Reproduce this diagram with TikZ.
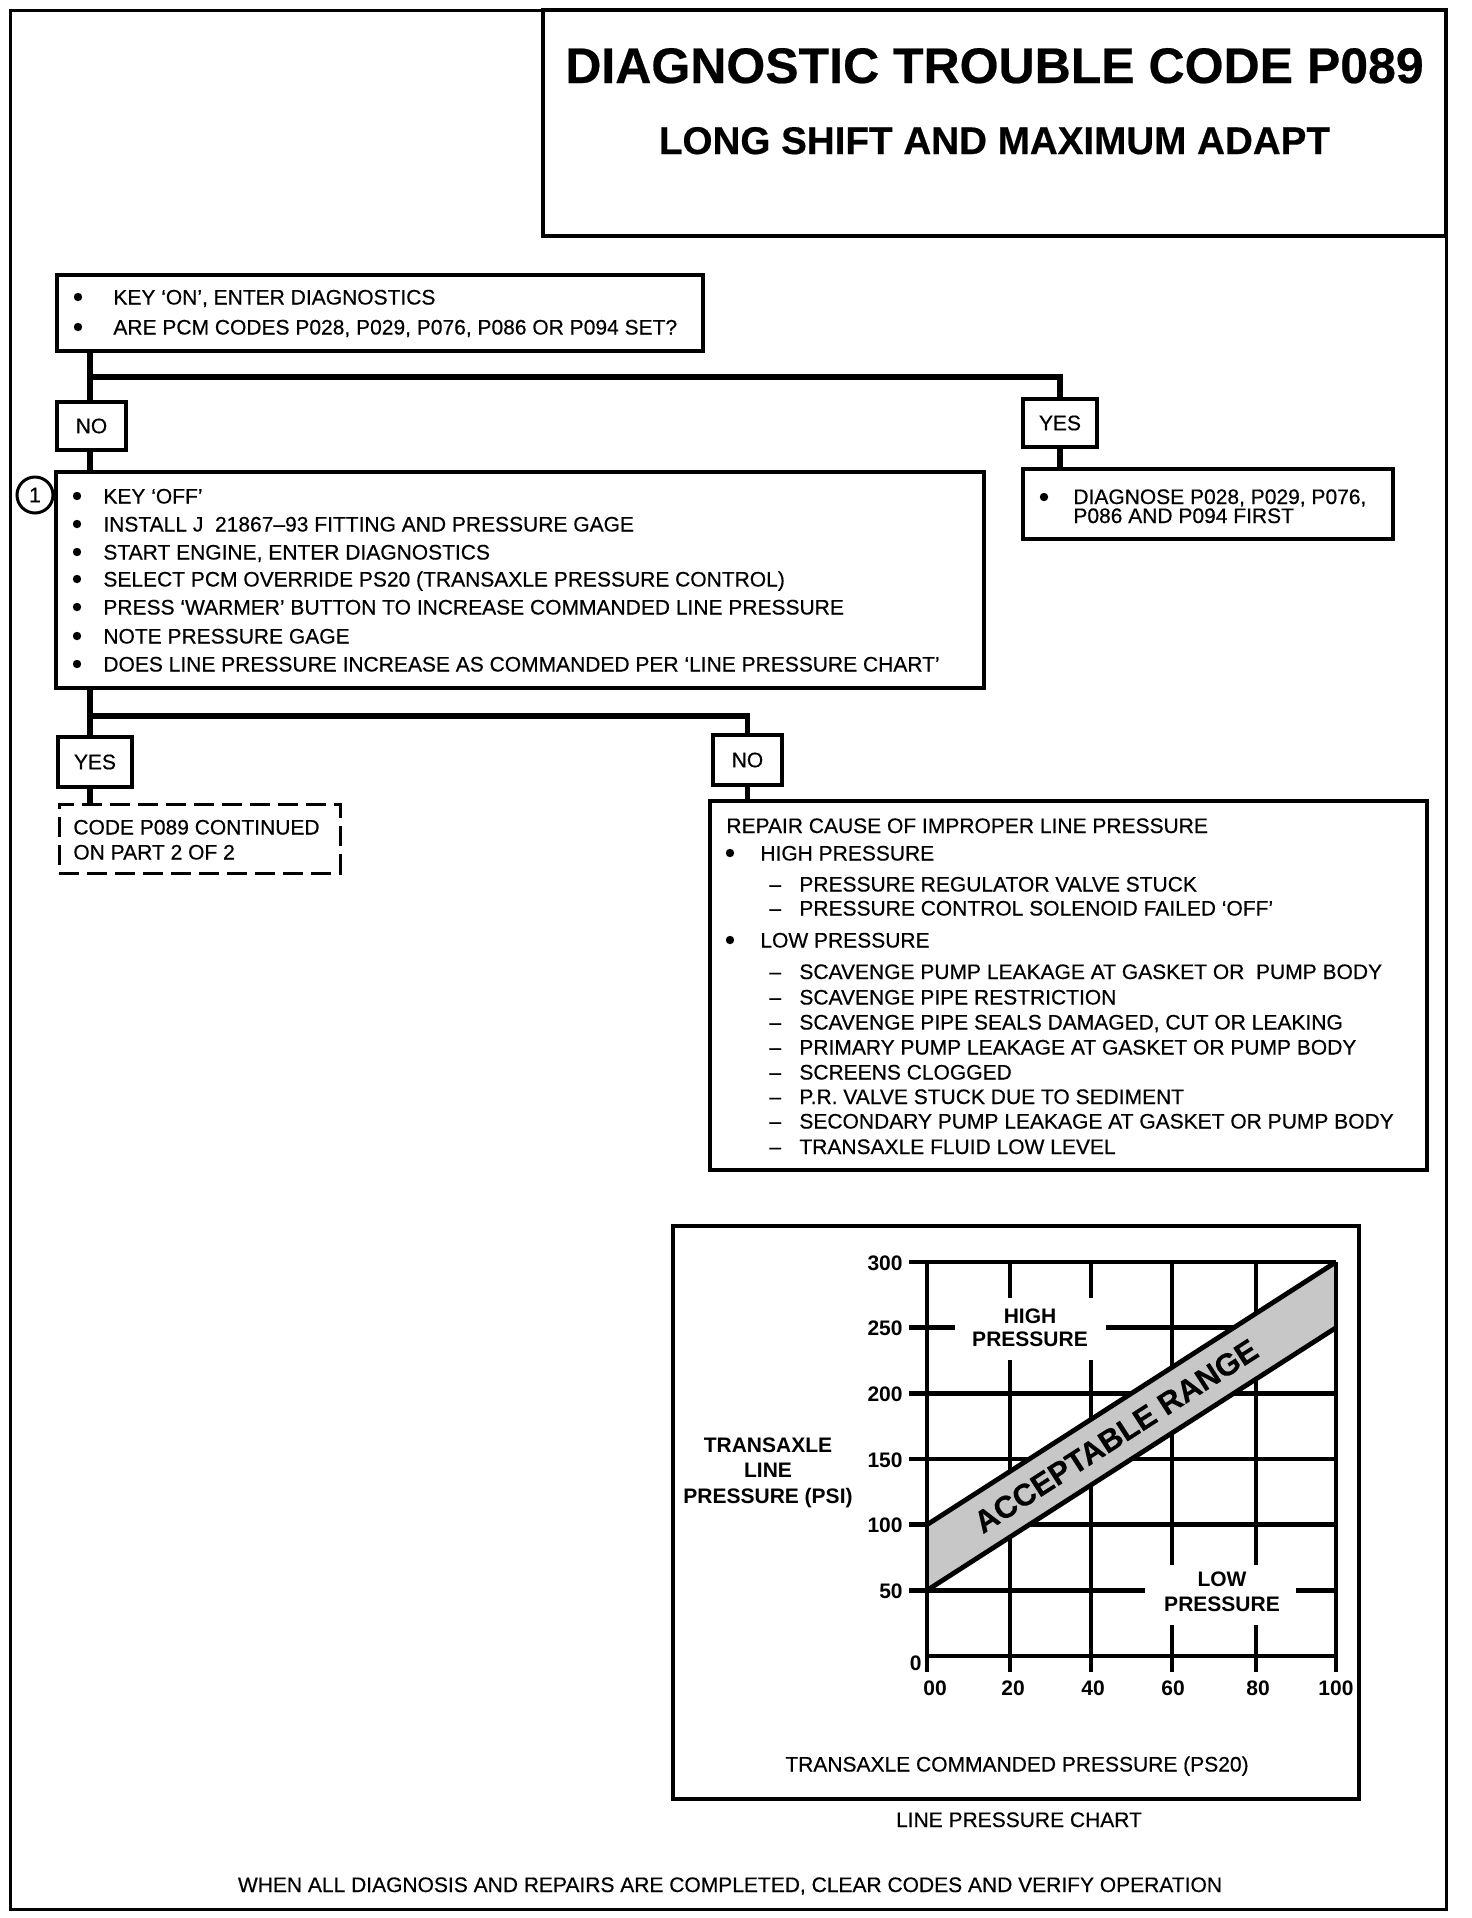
\documentclass[tikz,border=0pt]{standalone}
\usepackage{fontspec}
\setmainfont{Liberation Sans}
\newfontfamily\heavyfont{Liberation Sans}[FakeBold=0.45]
\newcommand\bodyfont{\heavyfont\fontsize{10.5}{12.6}\selectfont}
\newcommand\chartfont{\fontsize{10.5}{12.6}\selectfont\bfseries}
\newcommand\dgbul[2]{\fill (#1,#2) circle[radius=2.1pt];}
\begin{document}
\begin{tikzpicture}[x=0.5pt,y=-0.5pt,
  box/.style={draw,line width=1.8pt,inner sep=0pt,font=\bodyfont},
  conn/.style={line width=2.8pt},
  txt/.style={inner sep=0pt,anchor=base west,font=\bodyfont},
  ctxt/.style={inner sep=0pt,anchor=base,font=\chartfont},
  gridline/.style={line width=2.4pt},
]
\useasboundingbox (0,0) rectangle (1472,1918);
\fill[white] (0,0) rectangle (1472,1918);
% outer frame
\draw[line width=1.5pt] (10,10) rectangle (1446,1909);
% title box
\node[draw,line width=2pt,minimum width=451.5pt,minimum height=113pt,inner sep=0pt] (tbox) at (994.5,123) {};
\node[inner sep=0pt,anchor=base,font=\heavyfont\fontsize{25}{30}\selectfont\bfseries] (title) at (994.5,83) {DIAGNOSTIC TROUBLE CODE P089};
\node[inner sep=0pt,anchor=base,font=\heavyfont\fontsize{19.3}{23}\selectfont\bfseries] (subtitle) at (994.5,154) {LONG SHIFT AND MAXIMUM ADAPT};

% boxes
\node[box,minimum width=323pt,minimum height=38pt] (box1) at (380,313) {};
\node[box,minimum width=34.5pt,minimum height=24pt] (no1) at (91.5,426) {NO};
\node[box,minimum width=37pt,minimum height=24pt] (yes1) at (1060,423) {YES};
\node[box,minimum width=185pt,minimum height=35pt] (diag) at (1208,504) {};
\node[box,minimum width=464pt,minimum height=108pt] (box2) at (520,580) {};
\node[box,minimum width=37pt,minimum height=25pt] (yes2) at (95,762) {YES};
\node[box,minimum width=34.5pt,minimum height=25pt] (no2) at (747.5,760) {NO};
\node[box,dash pattern=on 10pt off 4pt,line width=1.5pt,minimum width=140.5pt,minimum height=34.5pt] (cont) at (199.5,838.5) {};
\node[box,minimum width=358.5pt,minimum height=184.5pt] (repair) at (1068.5,985.5) {};
\node[draw,circle,line width=1.5pt,minimum size=18pt,inner sep=0pt,font=\bodyfont] (c1) at (35,495) {1};

% connectors
\coordinate (t1) at (90,377);
\coordinate (t2) at (90,716);
\draw[conn] (box1.south -| t1) -- (t1) -| (yes1.north);
\draw[conn] (t1) -- (no1.north -| t1);
\draw[conn] (no1.south -| t1) -- (box2.north -| t1);
\draw[conn] (yes1.south) -- (diag.north -| yes1.south);
\draw[conn] (box2.south -| t2) -- (t2) -| (no2.north);
\draw[conn] (t2) -- (yes2.north -| t2);
\draw[conn] (yes2.south -| t2) -- (cont.north -| t2);
\draw[conn] (no2.south) -- (repair.north -| no2.south);

% box1 text
\dgbul{78}{297}\dgbul{78}{327}
\node[txt] (b1a) at (113,304.5) {KEY ‘ON’, ENTER DIAGNOSTICS};
\node[txt] (b1b) at (113,334.5) {ARE PCM CODES P028, P029, P076, P086 OR P094 SET?};

% diag text
\dgbul{1044}{497}
\node[txt] (dga) at (1073,504) {DIAGNOSE P028, P029, P076,};
\node[txt] (dgb) at (1073,523) {P086 AND P094 FIRST};

% box2 text
\foreach \yy in {496,524,552,579,607,636,664} {\dgbul{77}{\yy}}
\node[txt] (b2a) at (103,503.5) {KEY ‘OFF’};
\node[txt] (b2b) at (103,531.5) {INSTALL J\ \ 21867–93 FITTING AND PRESSURE GAGE};
\node[txt] (b2c) at (103,559.5) {START ENGINE, ENTER DIAGNOSTICS};
\node[txt] (b2d) at (103,586.5) {SELECT PCM OVERRIDE PS20 (TRANSAXLE PRESSURE CONTROL)};
\node[txt] (b2e) at (103,614.5) {PRESS ‘WARMER’ BUTTON TO INCREASE COMMANDED LINE PRESSURE};
\node[txt] (b2f) at (103,643.5) {NOTE PRESSURE GAGE};
\node[txt] (b2g) at (103,671.5) {DOES LINE PRESSURE INCREASE AS COMMANDED PER ‘LINE PRESSURE CHART’};

% continued box
\node[txt] (ca) at (73,834.5) {CODE P089 CONTINUED};
\node[txt] (cb) at (73,859.5) {ON PART 2 OF 2};

% repair text
\node[txt] (r0) at (726,833) {REPAIR CAUSE OF IMPROPER LINE PRESSURE};
\dgbul{730}{853}\dgbul{730}{940}
\node[txt] (r1) at (760,860.5) {HIGH PRESSURE};
\node[txt] (r1d1) at (769,891.5) {–};
\node[txt] (r11) at (799,891.5) {PRESSURE REGULATOR VALVE STUCK};
\node[txt] (r1d2) at (769,915.5) {–};
\node[txt] (r12) at (799,915.5) {PRESSURE CONTROL SOLENOID FAILED ‘OFF’};
\node[txt] (r2) at (760,947.5) {LOW PRESSURE};
\foreach \yy/\nm in {979/a,1004.5/b,1029.5/c,1054.5/d,1079.5/e,1104/f,1128.5/g,1154/h} {\node[txt] (rd\nm) at (769,\yy) {–};}
\node[txt] (r21) at (799,979) {SCAVENGE PUMP LEAKAGE AT GASKET OR\ \ PUMP BODY};
\node[txt] (r22) at (799,1004.5) {SCAVENGE PIPE RESTRICTION};
\node[txt] (r23) at (799,1029.5) {SCAVENGE PIPE SEALS DAMAGED, CUT OR LEAKING};
\node[txt] (r24) at (799,1054.5) {PRIMARY PUMP LEAKAGE AT GASKET OR PUMP BODY};
\node[txt] (r25) at (799,1079.5) {SCREENS CLOGGED};
\node[txt] (r26) at (799,1104) {P.R. VALVE STUCK DUE TO SEDIMENT};
\node[txt] (r27) at (799,1128.5) {SECONDARY PUMP LEAKAGE AT GASKET OR PUMP BODY};
\node[txt] (r28) at (799,1154) {TRANSAXLE FLUID LOW LEVEL};

% chart
\node[draw,line width=1.6pt,minimum width=343pt,minimum height=286.5pt,inner sep=0pt] (chart) at (1016,1512.5) {};
% horizontal grid
\draw[gridline] (909,1262) -- (1336,1262);
\draw[gridline] (909,1327.7) -- (955,1327.7);
\draw[gridline] (1106,1327.7) -- (1336,1327.7);
\foreach \yy in {1393.3,1459,1524.7} {\draw[gridline] (909,\yy) -- (1336,\yy);}
\draw[gridline] (909,1590.3) -- (1145,1590.3);
\draw[gridline] (1296,1590.3) -- (1336,1590.3);
\draw[gridline] (927,1656) -- (1336,1656);
% vertical grid
\foreach \xx in {1010,1091} {\draw[gridline] (\xx,1262) -- (\xx,1298); \draw[gridline] (\xx,1360) -- (\xx,1672);}
\foreach \xx in {1172,1256} {\draw[gridline] (\xx,1262) -- (\xx,1565); \draw[gridline] (\xx,1625) -- (\xx,1672);}
% band
\fill[black!22] (927,1524.7) -- (1336,1262) -- (1336,1327.7) -- (927,1590.3) -- cycle;
\draw[gridline] (927,1524.7) -- (1336,1262);
\draw[gridline] (927,1590.3) -- (1336,1327.7);
\draw[gridline] (927,1262) -- (927,1672);
\draw[gridline] (1336,1262) -- (1336,1672);
\node[inner sep=0pt,rotate=32.74,font=\heavyfont\fontsize{15.5}{18}\selectfont\bfseries] (acc) at (1116,1436) {ACCEPTABLE RANGE};
% labels
\node[ctxt] (hi1) at (1030,1323) {HIGH};
\node[ctxt] (hi2) at (1030,1346) {PRESSURE};
\node[ctxt] (lo1) at (1222,1586) {LOW};
\node[ctxt] (lo2) at (1222,1611) {PRESSURE};
\node[ctxt] (yl1) at (768,1452) {TRANSAXLE};
\node[ctxt] (yl2) at (768,1477.5) {LINE};
\node[ctxt] (yl3) at (768,1503) {PRESSURE (PSI)};
\foreach \yy/\lab in {1270/300,1335.7/250,1401.3/200,1467/150,1532.7/100,1598.3/50} {\node[ctxt,anchor=base east] (ylab\lab) at (903,\yy) {\lab};}
\node[ctxt,anchor=base east] (ylab0) at (922,1670) {0};
\foreach \xx/\lab/\nm in {935/00/a,1013/20/b,1093/40/c,1173/60/d,1258/80/e,1336/100/f} {\node[ctxt] (xlab\nm) at (\xx,1695) {\lab};}
\node[inner sep=0pt,anchor=base,font=\bodyfont] (xtitle) at (1017,1771.5) {TRANSAXLE COMMANDED PRESSURE (PS20)};
\node[inner sep=0pt,anchor=base,font=\bodyfont] (ctitle) at (1019,1827) {LINE PRESSURE CHART};
\node[inner sep=0pt,anchor=base,font=\bodyfont] (note) at (730,1892) {WHEN ALL DIAGNOSIS AND REPAIRS ARE COMPLETED, CLEAR CODES AND VERIFY OPERATION};
\end{tikzpicture}
\end{document}
